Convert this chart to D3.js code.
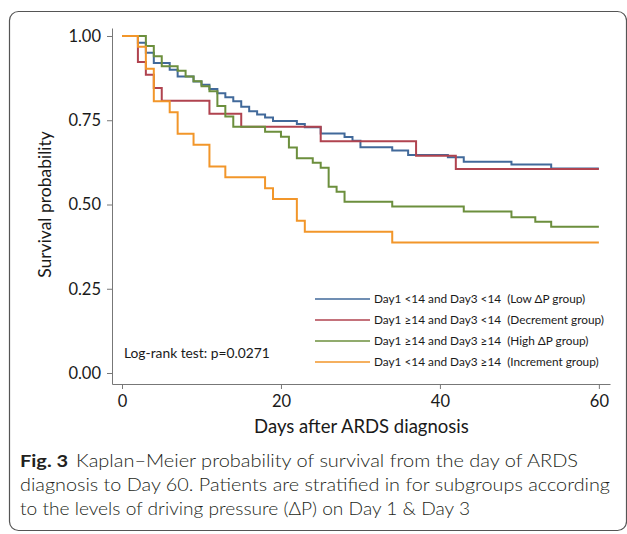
<!DOCTYPE html>
<html>
<head>
<meta charset="utf-8">
<script src="https://cdn.jsdelivr.net/npm/d3@7"></script>
<style>
  body { margin: 0; background: #fff; }
  svg { display: block; }
  text { font-family: Lato, "Open Sans", sans-serif; fill: #1a1a1a; }
  .axis path, .axis line { stroke: #777; }
  .leg { white-space: pre; }
  .cap { font-weight: 300; fill: #231f20; }
</style>
</head>
<body>
<div id="km_svg"></div>
<script>

// survival curves: [day, probability] at each step
var low_dp = [[0,1],[2,0.980],[3,0.950],[4,0.920],[6,0.900],[7,0.880],[9,0.865],[10,0.855],[11,0.843],[12,0.830],
              [13,0.818],[14,0.806],[15,0.790],[16,0.777],[17,0.767],[18,0.758],[19,0.748],[22,0.739],[23,0.729],
              [25,0.711],[28,0.700],[29,0.689],[30,0.670],[34,0.660],[36,0.647],[41,0.640],[43,0.627],[49,0.619],
              [54,0.607],[60,0.607]];
var decrement = [[0,1],[2,0.923],[3,0.885],[4,0.846],[5,0.808],[11,0.769],[15,0.731],[25,0.688],[37,0.645],[42,0.605],[60,0.605]];
var high_dp = [[0,1],[3,0.970],[4,0.940],[5,0.910],[7,0.897],[8,0.880],[9,0.866],[10,0.851],[11,0.836],[12,0.792],
               [13,0.761],[14,0.731],[18,0.716],[20,0.701],[21,0.669],[22,0.637],[24,0.624],[25,0.609],[26,0.553],
               [27,0.538],[28,0.508],[34,0.494],[43,0.479],[49,0.462],[52,0.449],[54,0.434],[60,0.434]];
var increment = [[0,1],[2,0.968],[3,0.903],[4,0.806],[6,0.774],[7,0.710],[9,0.677],[11,0.613],[13,0.581],[18,0.548],
                 [19,0.516],[22,0.452],[23,0.419],[34,0.387],[60,0.387]];

var series = [low_dp, decrement, high_dp, increment];
var labels = ["Day1 <14 and Day3 <14  (Low \u0394P group)",
              "Day1 \u226514 and Day3 <14  (Decrement group)",
              "Day1 \u226514 and Day3 \u226514  (High \u0394P group)",
              "Day1 <14 and Day3 \u226514  (Increment group)"];
var colors = ["#41699a", "#b0434f", "#6c8f3d", "#f2962a"];

var x_ticks = [0, 20, 40, 60];
var y_ticks = [0, 0.25, 0.5, 0.75, 1];

var caption = ["Kaplan\u2013Meier probability of survival from the day of ARDS",
               "diagnosis to Day 60. Patients are stratified in for subgroups according",
               "to the levels of driving pressure (\u0394P) on Day 1 & Day 3"];
var caption_ends = [578, 610, 470];


var width = 627, height = 534;

var svg = d3.select("#km_svg").append("svg")
    .attr("width", width)
    .attr("height", height);

// rounded frame
svg.append("rect")
    .attr("x", 9.5).attr("y", 11.5)
    .attr("width", 617).attr("height", 519)
    .attr("rx", 9)
    .attr("fill", "none")
    .attr("stroke", "#555")
    .attr("stroke-width", 1.2);

var x = d3.scaleLinear().domain([-1.26, 61.4]).range([112, 610]);
var y = d3.scaleLinear().domain([-0.0326, 1.0237]).range([384, 28]);

// axes
svg.append("g")
    .attr("class", "axis")
    .attr("transform", "translate(0," + y.range()[0] + ")")
    .call(d3.axisBottom(x).tickValues(x_ticks).tickSize(5).tickSizeOuter(0).tickPadding(6))
    .call(function(g) { g.selectAll("text").style("font-size", "16.5px"); });

svg.append("g")
    .attr("class", "axis")
    .attr("transform", "translate(" + x.range()[0] + ",0)")
    .call(d3.axisLeft(y).tickValues(y_ticks).tickSize(5).tickSizeOuter(0).tickPadding(6).tickFormat(d3.format(".2f")))
    .call(function(g) { g.selectAll("text").style("font-size", "16.5px"); });

svg.append("text")
    .attr("transform", "translate(51," + y(0.5) + ") rotate(-90)")
    .attr("text-anchor", "middle")
    .style("font-size", "17.5px")
    .text("Survival probability");

svg.append("text")
    .attr("x", (x(0) + x(60)) / 2 + 1)
    .attr("y", 433)
    .attr("text-anchor", "middle")
    .style("font-size", "18.5px")
    .text("Days after ARDS diagnosis");

// step curves
var line = d3.line()
    .x(function(d) { return x(d[0]); })
    .y(function(d) { return y(d[1]); })
    .curve(d3.curveStepAfter);

series.forEach(function(s, i) {
    svg.append("path")
        .datum(s)
        .attr("d", line)
        .attr("fill", "none")
        .attr("stroke", colors[i])
        .attr("stroke-width", 2);
});

// legend
labels.forEach(function(lab, i) {
    var ly = 299 + i * 21;
    svg.append("line")
        .attr("x1", 315).attr("x2", 370)
        .attr("y1", ly).attr("y2", ly)
        .attr("stroke", colors[i])
        .attr("stroke-width", 1.5);
    svg.append("text")
        .attr("class", "leg")
        .attr("x", 374).attr("y", ly + 4)
        .style("font-size", "11.8px")
        .text(lab);
});

svg.append("text")
    .attr("x", 124).attr("y", 358)
    .style("font-size", "13.8px")
    .text("Log-rank test: p=0.0271");

// caption, each line fitted to the width it has in the figure
var fs = 17.5;
var cap = svg.append("g");
var t1 = cap.append("text").attr("class", "cap").attr("x", 20).attr("y", 467).style("font-size", fs + "px");
t1.append("tspan").style("font-weight", "bold").text("Fig. 3");
t1.append("tspan").attr("dx", 7).text(caption[0]);
var t2 = cap.append("text").attr("class", "cap").attr("x", 20).attr("y", 491).style("font-size", fs + "px").text(caption[1]);
var t3 = cap.append("text").attr("class", "cap").attr("x", 20).attr("y", 515).style("font-size", fs + "px").text(caption[2]);

[t1, t2, t3].forEach(function(t, i) {
    t.attr("textLength", caption_ends[i] - 20).attr("lengthAdjust", "spacingAndGlyphs");
});

</script>
</body>
</html>
